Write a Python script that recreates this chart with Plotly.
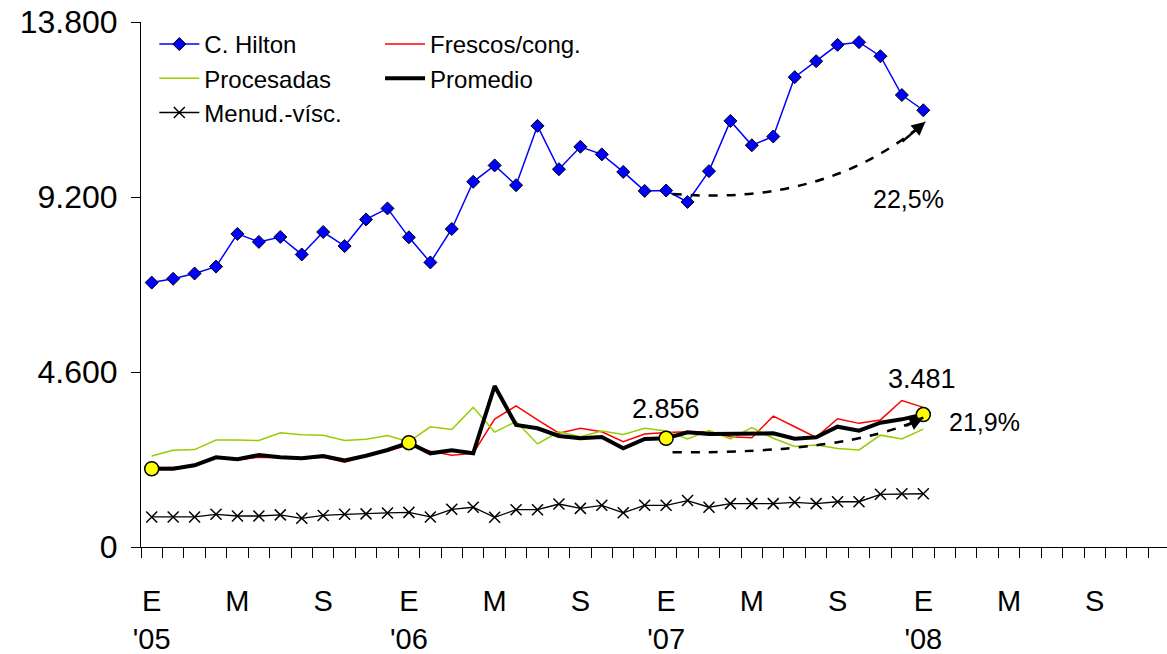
import plotly.graph_objects as go

# ---------------- data ----------------
tick_positions = [0, 4, 8, 12, 16, 20, 24, 28, 32, 36, 40, 44]
tick_labels = ["E<br>'05", "M", "S", "E<br>'06", "M", "S",
               "E<br>'07", "M", "S", "E<br>'08", "M", "S"]
n_categories = 48

y_tick_values = [0, 4600, 9200, 13800]
y_tick_labels = ["0", "4.600", "9.200", "13.800"]

hilton = [6950, 7050, 7190, 7370, 8230, 8020, 8150, 7690, 8280, 7910, 8610, 8900,
          8140, 7480, 8360, 9600, 10030, 9510, 11070, 9930, 10520, 10320, 9860, 9360,
          9370, 9070, 9880, 11200, 10560, 10790, 12350, 12770, 13200, 13270, 12900, 11880,
          11480]
frescos = [2090, 2090, 2150, 2360, 2290, 2360, 2350, 2320, 2360, 2230, 2390, 2520,
           2680, 2520, 2410, 2460, 3360, 3710, 3340, 2990, 3120, 3030, 2770, 2970,
           3010, 3030, 3030, 2900, 2870, 3440, 3160, 2880, 3370, 3250, 3340, 3850,
           3670]
procesadas = [2390, 2540, 2560, 2810, 2810, 2800, 3000, 2950, 2940, 2800, 2830, 2930,
              2770, 3160, 3090, 3670, 3020, 3300, 2710, 3030, 2900, 3050, 2960, 3120,
              3050, 2840, 3060, 2840, 3140, 2860, 2640, 2680, 2590, 2550, 2940, 2840,
              3100]
promedio = [2058, 2058, 2147, 2357, 2305, 2418, 2357, 2331, 2392, 2278, 2400, 2550,
            2742, 2462, 2541, 2462, 4232, 3207, 3120, 2918, 2856, 2891, 2594, 2839,
            2856, 3014, 2970, 2979, 2987, 2987, 2848, 2883, 3163, 3058, 3268, 3356,
            3481]
menud = [790, 790, 790, 860, 815, 815, 845, 755, 830, 860, 870, 895,
         910, 790, 990, 1045, 780, 980, 980, 1130, 1015, 1095, 900, 1095,
         1095, 1220, 1045, 1140, 1140, 1140, 1175, 1140, 1190, 1190, 1385, 1400,
         1400]
highlight_idx = [0, 12, 24, 36]

growth_hilton = "22,5%"
growth_promedio = "21,9%"
label_jan07 = "2.856"
label_jan08 = "3.481"

# ---------------- figure ----------------
x = list(range(len(hilton)))
FONT = "Liberation Sans, Arial, sans-serif"

fig = go.Figure()
fig.add_trace(go.Scatter(
    x=x, y=hilton, name="C. Hilton", mode="lines+markers",
    line=dict(color="#0000FF", width=1.5),
    marker=dict(symbol="diamond", size=10, color="#0000FF",
                line=dict(color="black", width=1)),
    legend="legend"))
fig.add_trace(go.Scatter(
    x=x, y=frescos, name="Frescos/cong.", mode="lines",
    line=dict(color="#FF0000", width=1.5), legend="legend2"))
fig.add_trace(go.Scatter(
    x=x, y=procesadas, name="Procesadas", mode="lines",
    line=dict(color="#99CC00", width=1.5), legend="legend"))
fig.add_trace(go.Scatter(
    x=x, y=promedio, name="Promedio", mode="lines",
    line=dict(color="black", width=4), legend="legend2"))
fig.add_trace(go.Scatter(
    x=x, y=menud, name="Menud.-vísc.", mode="lines+markers",
    line=dict(color="black", width=1.3),
    marker=dict(symbol="x-thin", size=11, color="black",
                line=dict(color="black", width=1.5)),
    legend="legend"))
fig.add_trace(go.Scatter(
    x=highlight_idx, y=[promedio[i] for i in highlight_idx], mode="markers",
    marker=dict(symbol="circle", size=14, color="#FFFF00",
                line=dict(color="black", width=1.5)),
    showlegend=False, hoverinfo="skip"))

# dashed growth curves (quadratic Bezier in data coordinates)
def curve(p0, c, p2):
    return f"M {p0[0]},{p0[1]} Q {c[0]},{c[1]} {p2[0]},{p2[1]}"

h_start, h_ctrl, h_end = (24.3, 9280), (31.5, 8950), (36.1, 11180)
p_start, p_ctrl, p_end = (24.3, 2490), (32.5, 2450), (36.0, 3400)

for s, c, e in [(h_start, h_ctrl, h_end), (p_start, p_ctrl, p_end)]:
    fig.add_shape(type="path", path=curve(s, c, e), xref="x", yref="y",
                  line=dict(color="black", width=2.5, dash="dash"))
    # arrowhead along end tangent
    tx = e[0] - 0.25 * (e[0] - c[0])
    ty = e[1] - 0.25 * (e[1] - c[1])
    fig.add_annotation(x=e[0], y=e[1], ax=tx, ay=ty, axref="x", ayref="y",
                       xref="x", yref="y", text="", showarrow=True,
                       arrowhead=2, arrowsize=1.1, arrowwidth=2.5,
                       arrowcolor="black")

ann_font = dict(family=FONT, size=25, color="black")
fig.add_annotation(x=35.3, y=9150, text=growth_hilton, showarrow=False, font=ann_font)
fig.add_annotation(x=24.0, y=3630, text=label_jan07, showarrow=False,
                   font=dict(family=FONT, size=27, color="black"))
fig.add_annotation(x=35.95, y=4415, text=label_jan08, showarrow=False,
                   font=dict(family=FONT, size=27, color="black"))
fig.add_annotation(x=38.85, y=3290, text=growth_promedio, showarrow=False, font=ann_font)

legend_common = dict(font=dict(family=FONT, size=24, color="black"),
                     bgcolor="rgba(0,0,0,0)", orientation="v",
                     xanchor="left", yanchor="top", itemwidth=40,
                     tracegroupgap=0, traceorder="normal")
fig.update_layout(
    width=1167, height=654,
    margin=dict(l=141, r=0, t=22, b=107),
    paper_bgcolor="white", plot_bgcolor="white",
    font=dict(family=FONT, color="black"),
    showlegend=True,
    legend=dict(x=0.013, y=1.0, **legend_common),
    legend2=dict(x=0.233, y=1.0, **legend_common),
    xaxis=dict(
        range=[-0.5, 47.37], tickmode="array", tickvals=tick_positions,
        ticktext=tick_labels, ticks="outside", ticklen=28,
        tickcolor="rgba(0,0,0,0)", showgrid=False, zeroline=False,
        showline=True, linecolor="black", linewidth=1, automargin=False,
        ticklabeloverflow="allow",
        tickfont=dict(family=FONT, size=29, color="black"),
        minor=dict(tick0=-0.5, dtick=1, ticks="outside", ticklen=10,
                   tickcolor="black", tickwidth=1, showgrid=False)),
    yaxis=dict(
        range=[0, 13800], tickmode="array", tickvals=y_tick_values,
        ticktext=y_tick_labels, ticks="outside", ticklen=9,
        tickcolor="black", showgrid=False, zeroline=False,
        showline=True, linecolor="black", linewidth=1, automargin=False,
        ticklabeloverflow="allow", ticklabelstandoff=7,
        tickfont=dict(family=FONT, size=32, color="black")),
)

# place the figure at the page origin (remove the default 8px body margin)
fig.write_html("out.html", config={"displayModeBar": False},
               post_script="document.body.style.margin='0';")
